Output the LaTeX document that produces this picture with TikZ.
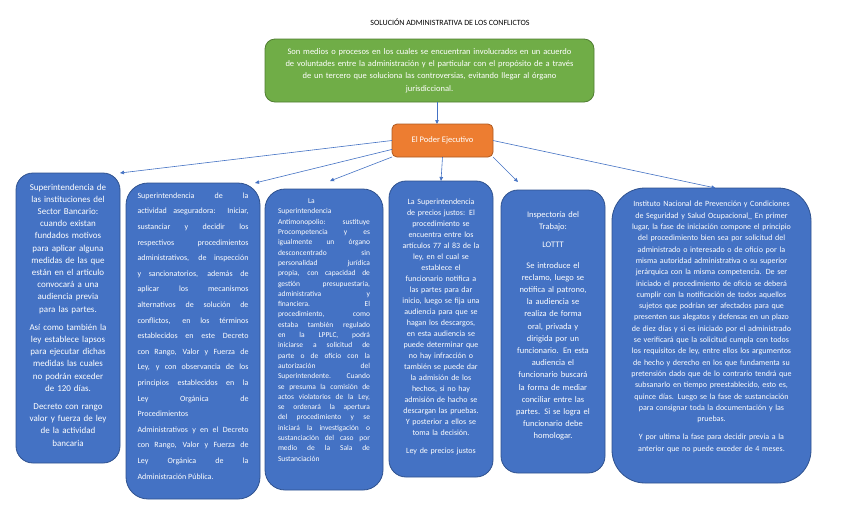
\documentclass[tikz,border=0pt]{standalone}
\usepackage{fontspec}
\setmainfont{Carlito}
\usetikzlibrary{arrows.meta}
\definecolor{boxblue}{HTML}{4472C4}
\definecolor{boxblueline}{HTML}{2F528F}
\definecolor{boxgreen}{HTML}{70AD47}
\definecolor{boxgreenline}{HTML}{507E32}
\definecolor{boxorange}{HTML}{ED7D31}
\definecolor{boxorangeline}{HTML}{AE5A21}
\newcommand\padbottom[1]{\par\vskip#1\hrule height0pt\relax}

\begin{document}
\begin{tikzpicture}[x=1pt,y=-1pt,
every node/.style={inner sep=0pt, outer sep=0pt},
bluebox/.style={draw=boxblueline, fill=boxblue, text=white, line width=0.8pt},
conn/.style={draw=boxblue, line width=0.6pt, -{Triangle[length=4pt,width=3.5pt]}}]
\useasboundingbox (0,0) rectangle (848,515);
\fill[white] (0,0) rectangle (848,515);

\node[font=\fontsize{8}{10}\selectfont] (title) at (450,22) {SOLUCIÓN ADMINISTRATIVA DE LOS CONFLICTOS};

\node[draw=boxgreenline, fill=boxgreen, text=white, line width=0.8pt, rounded corners=10pt, minimum width=329pt, minimum height=63pt, text width=320pt, align=center, font=\fontsize{8.5}{12.3}\selectfont] (intro) at (429.5,70.5) {Son medios o procesos en los cuales se encuentran involucrados en un acuerdo\\ de voluntades entre la administración y el particular con el propósito de a través\\ de un tercero que soluciona las controversias, evitando llegar al órgano\\ jurisdiccional.};

\node[draw=boxorangeline, fill=boxorange, text=white, line width=0.8pt, rounded corners=5pt, minimum width=101pt, minimum height=33pt, font=\fontsize{8.5}{10}\selectfont] (exec) at (442.5,140.5) {El Poder Ejecutivo};

\node[bluebox, rounded corners=17pt, minimum width=104pt, minimum height=290pt, text width=92pt, align=center, font=\fontsize{9}{12.2}\selectfont] (b1) at (68,318) {Superintendencia de\\ las instituciones del\\ Sector Bancario:\\ cuando existan\\ fundados motivos\\ para aplicar alguna\\ medidas de las que\\ están en el articulo\\ convocará a una\\ audiencia previa\\ para las partes.\\[6pt] Así como también la\\ ley establece lapsos\\ para ejecutar dichas\\ medidas las cuales\\ no podrán exceder\\ de 120 días.\\[6pt] Decreto con rango\\ valor y fuerza de ley\\ de la actividad\\ bancaria\padbottom{6pt}};

\node[bluebox, rounded corners=22pt, minimum width=134pt, minimum height=316pt, text width=111pt, align=justify, font=\fontsize{8}{15.6}\selectfont] (b2) at (193,341) {Superintendencia de la\linebreak actividad aseguradora: Iniciar,\linebreak sustanciar y decidir los\linebreak respectivos procedimientos\linebreak administrativos, de inspección\linebreak y sancionatorios, además de\linebreak aplicar los mecanismos\linebreak alternativos de solución de\linebreak conflictos, en los términos\linebreak establecidos en este Decreto\linebreak con Rango, Valor y Fuerza de\linebreak Ley, y con observancia de los\linebreak principios establecidos en la\linebreak Ley Orgánica de\linebreak Procedimientos\\ Administrativos y en el Decreto\linebreak con Rango, Valor y Fuerza de\linebreak Ley Orgánica de la\linebreak Administración Pública.\padbottom{10pt}};

\node[bluebox, rounded corners=20pt, minimum width=118pt, minimum height=301pt, text width=92pt, align=justify, font=\fontsize{7.5}{10.3}\selectfont] (b3) at (324,339.5) {\hspace*{30pt}La\\ Superintendencia\\ Antimonopolio: sustituye\linebreak Procompetencia y es\linebreak igualmente un órgano\linebreak desconcentrado sin\linebreak personalidad jurídica\linebreak propia, con capacidad de\linebreak gestión presupuestaria,\linebreak administrativa y\linebreak financiera. El\linebreak procedimiento, como\linebreak estaba también regulado\linebreak en la LPPLC, podrá\linebreak iniciarse a solicitud de\linebreak parte o de oficio con la\linebreak autorización del\linebreak Superintendente. Cuando\linebreak se presuma la comisión de\linebreak actos violatorios de la Ley,\linebreak se ordenará la apertura\linebreak del procedimiento y se\linebreak iniciará la investigación o\linebreak sustanciación del caso por\linebreak medio de la Sala de\linebreak Sustanciación\padbottom{19pt}};

\node[bluebox, rounded corners=17pt, minimum width=104pt, minimum height=296pt, text width=92pt, align=center, font=\fontsize{8}{11}\selectfont] (b4) at (441,329) {La Superintendencia\\ de precios justos: El\\ procedimiento se\\ encuentra entre los\\ artículos 77 al 83 de la\\ ley, en el cual se\\ establece el\\ funcionario notifica a\\ las partes para dar\\ inicio, luego se fija una\\ audiencia para que se\\ hagan los descargos,\\ en esta audiencia se\\ puede determinar que\\ no hay infracción o\\ también se puede dar\\ la admisión de los\\ hechos, si no hay\\ admisión de hacho se\\ descargan las pruebas.\\ Y posterior a ellos se\\ toma la decisión.\\[7pt] Ley de precios justos\padbottom{4pt}};

\node[bluebox, rounded corners=17pt, minimum width=104pt, minimum height=283pt, text width=96pt, align=center, font=\fontsize{8.5}{12.2}\selectfont] (b5) at (553,331.5) {Inspectoría del\\ Trabajo:\\[5.5pt] LOTTT\\[8.5pt] Se introduce el\\ reclamo, luego se\\ notifica al patrono,\\ la audiencia se\\ realiza de forma\\ oral, privada y\\ dirigida por un\\ funcionario. En esta\\ audiencia el\\ funcionario buscará\\ la forma de mediar\\ conciliar entre las\\ partes. Si se logra el\\ funcionario debe\\ homologar.\padbottom{11pt}};

\node[bluebox, rounded corners=33pt, minimum width=199pt, minimum height=295pt, text width=180pt, align=center, font=\fontsize{8}{11.3}\selectfont] (b6) at (711.5,335.5) {Instituto Nacional de Prevención y Condiciones\\ de Seguridad y Salud Ocupacional\_ En primer\\ lugar, la fase de iniciación compone el principio\\ del procedimiento bien sea por solicitud del\\ administrado o interesado o de oficio por la\\ misma autoridad administrativa o su superior\\ jerárquica con la misma competencia. De ser\\ iniciado el procedimiento de oficio se deberá\\ cumplir con la notificación de todos aquellos\\ sujetos que podrían ser afectados para que\\ presenten sus alegatos y defensas en un plazo\\ de diez días y si es iniciado por el administrado\\ se verificará que la solicitud cumpla con todos\\ los requisitos de ley, entre ellos los argumentos\\ de hecho y derecho en los que fundamenta su\\ pretensión dado que de lo contrario tendrá que\\ subsanarlo en tiempo preestablecido, esto es,\\ quince días. Luego se la fase de sustanciación\\ para consignar toda la documentación y las\\ pruebas.\\[7pt] Y por ultima la fase para decidir previa a la\\ anterior que no puede exceder de 4 meses.\padbottom{17pt}};

\draw[conn] ([xshift=7.5pt]intro.south) -- ([xshift=-5.5pt]exec.north);
\draw[conn] (exec.west) -- (b1.north east);
\draw[conn] (exec.190) -- ([xshift=-5pt]b2.north east);
\draw[conn] (exec.south west) -- ([xshift=6pt,yshift=8pt]b3.north);
\draw[conn] (exec.south) -- (b4.north);
\draw[conn] (exec.south east) -- ([xshift=17pt,yshift=8pt]b5.north west);
\draw[conn] (exec.east) -- ([xshift=4pt]b6.north);
\end{tikzpicture}
\end{document}
